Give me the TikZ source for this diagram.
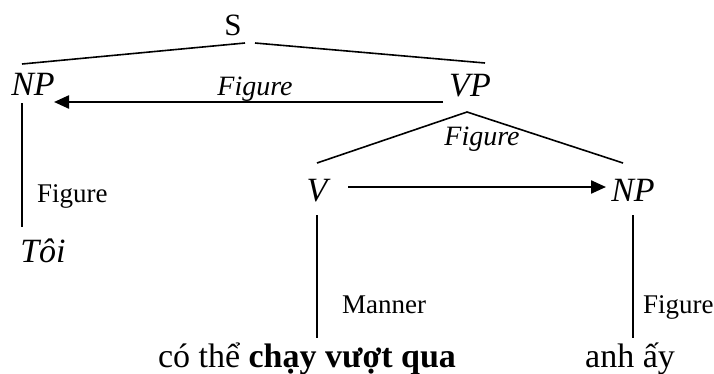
\documentclass[tikz,border=0pt]{standalone}
\usepackage{fontspec}
\setmainfont{Liberation Serif}
\usetikzlibrary{arrows.meta}

\begin{document}
\begin{tikzpicture}[x=1pt, y=-1pt,
  cat/.style={font=\fontsize{34}{38}\selectfont\itshape, inner sep=0pt, anchor=base},
  root/.style={font=\fontsize{31}{34}\selectfont, inner sep=0pt, anchor=base},
  word/.style={font=\fontsize{34}{38}\selectfont, inner sep=0pt, anchor=base},
  rolelbl/.style={font=\fontsize{27}{30}\selectfont, inner sep=0pt, anchor=base west},
  arrlbl/.style={font=\fontsize{28}{32}\selectfont\itshape, inner sep=0pt, anchor=base},
  branch/.style={line width=1.6pt},
  rel/.style={line width=2.3pt, -{Triangle[length=15pt, width=13pt]}}]

  \useasboundingbox (0,0) rectangle (714,373);

  % Categories
  \node[root] (S) at (233,35) {S};
  \node[cat] (np1) at (33,95) {NP};
  \node[cat] (vp) at (470,96) {VP};
  \node[cat] (v) at (317,201) {V};
  \node[cat] (np2) at (633,201) {NP};

  % Words
  \node[cat] (toi) at (43,262) {Tôi};
  \node[word] (verb) at (307,367) {có thể \textbf{chạy vượt qua}};
  \node[word] (anhay) at (630,367) {anh ấy};

  % Branch ends
  \coordinate (s-l) at (245,43);
  \coordinate (s-r) at (255,43);
  \coordinate (np1-top) at (22,64);
  \coordinate (vp-top) at (485,63);
  \coordinate (vp-bot) at (467,112);
  \coordinate (v-top) at (317,163);
  \coordinate (np2-top) at (623,163);
  \coordinate (np1-bot) at (22,103);
  \coordinate (toi-top) at (22,227);
  \coordinate (v-bot) at (317,215);
  \coordinate (verb-top) at (317,338);
  \coordinate (np2-bot) at (633,215);
  \coordinate (anhay-top) at (633,338);

  % Tree
  \draw[branch] (s-l) -- (np1-top);
  \draw[branch] (s-r) -- (vp-top);
  \draw[branch] (v-top) -- (vp-bot) -- (np2-top);
  \draw[branch] (np1-bot) -- (toi-top);
  \draw[branch] (v-bot) -- (verb-top);
  \draw[branch] (np2-bot) -- (anhay-top);

  % Relations
  \coordinate (vp-arr) at (443,102);
  \coordinate (np1-arr) at (54,102);
  \coordinate (v-arr) at (348,187);
  \coordinate (np2-arr) at (606,187);
  \draw[rel] (vp-arr) -- (np1-arr);
  \draw[rel] (v-arr) -- (np2-arr);

  % Labels
  \node[arrlbl] (fig1) at (255,95) {Figure};
  \node[arrlbl] (fig2) at (482,145) {Figure};
  \node[rolelbl] (fig3) at (37,202) {Figure};
  \node[rolelbl] (manner) at (342,313) {Manner};
  \node[rolelbl] (fig4) at (643,313) {Figure};

\end{tikzpicture}
\end{document}
